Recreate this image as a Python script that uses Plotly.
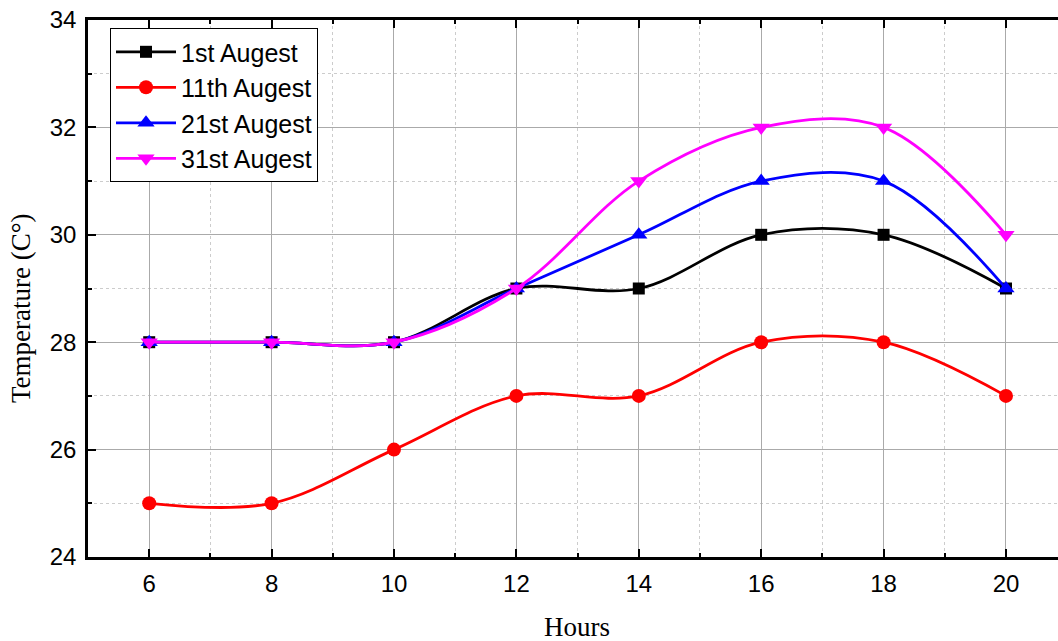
import plotly.graph_objects as go

hours = [6, 8, 10, 12, 14, 16, 18, 20]
aug1 = [28, 28, 28, 29, 29, 30, 30, 29]
aug11 = [25, 25, 26, 27, 27, 28, 28, 27]
aug21 = [28, 28, 28, 29, 30, 31, 31, 29]
aug31 = [28, 28, 28, 29, 31, 32, 32, 30]

series = [
    ("1st Augest", aug1, "black", "square", 12),
    ("11th Augest", aug11, "red", "circle", 14),
    ("21st Augest", aug21, "blue", "triangle-up", 15),
    ("31st Augest", aug31, "magenta", "triangle-down", 15),
]

fig = go.Figure()
for name, vals, col, sym, sz in series:
    fig.add_trace(go.Scatter(
        x=hours, y=vals, name=name, mode="lines+markers",
        line=dict(color=col, width=2.8, shape="spline", smoothing=1.0),
        marker=dict(symbol=sym, size=sz, color=col),
    ))

W = 1072  # wider than the window; the right part is cut off like in the reference
axis_font = dict(family="Liberation Sans, Arial", size=24, color="black")
title_font = dict(family="Liberation Serif, Times New Roman", size=27, color="black")
pw, ph = W - 88, 641 - 20 - 84
px_per_unit = 970 / 15.85
fig.update_layout(
    width=W, height=641,
    margin=dict(l=88, r=0, t=20, b=84),
    plot_bgcolor="white", paper_bgcolor="white",
    showlegend=True,
    legend=dict(
        x=(110 - 88) / pw, y=0.985, xanchor="left", yanchor="top",
        bgcolor="white", bordercolor="black", borderwidth=1,
        font=dict(family="Liberation Sans, Arial", size=25, color="black"),
        tracegroupgap=0, itemwidth=60,
    ),
    xaxis=dict(
        range=[5, 5 + pw / px_per_unit], tickvals=hours, ticks="inside", ticklen=8, tickwidth=2,
        tickcolor="black", showline=True, linecolor="black", linewidth=2.5,
        mirror="ticks", showgrid=True, gridcolor="#aaaaaa", gridwidth=1,
        tickfont=axis_font, zeroline=False, automargin=False, ticklabelstandoff=3,
        minor=dict(dtick=1, tick0=5, ticks="inside", ticklen=4, tickcolor="black",
                   showgrid=True, gridcolor="#cccccc", griddash="dot", gridwidth=1),
    ),
    yaxis=dict(
        range=[24, 34], dtick=2, ticks="inside", ticklen=8, tickwidth=2,
        tickcolor="black", showline=True, linecolor="black", linewidth=2.5,
        showgrid=True, gridcolor="#aaaaaa", gridwidth=1, tickfont=axis_font,
        zeroline=False, automargin=False, ticklabelstandoff=4,
        minor=dict(dtick=1, ticks="inside", ticklen=4, tickcolor="black",
                   showgrid=True, gridcolor="#cccccc", griddash="dot", gridwidth=1),
    ),
    annotations=[
        dict(text="Hours", x=(577 - 88) / pw, y=(557 - 627) / ph, xref="paper", yref="paper",
             showarrow=False, font=title_font, xanchor="center", yanchor="middle"),
        dict(text="Temperature (C°)", x=(21 - 88) / pw, y=(557 - 308) / ph, xref="paper",
             yref="paper", showarrow=False, font=title_font, textangle=-90,
             xanchor="center", yanchor="middle"),
    ],
)

fig.write_html("out.html", config={"displayModeBar": False},
               post_script="document.body.style.margin='0';document.body.style.overflow='hidden';")
